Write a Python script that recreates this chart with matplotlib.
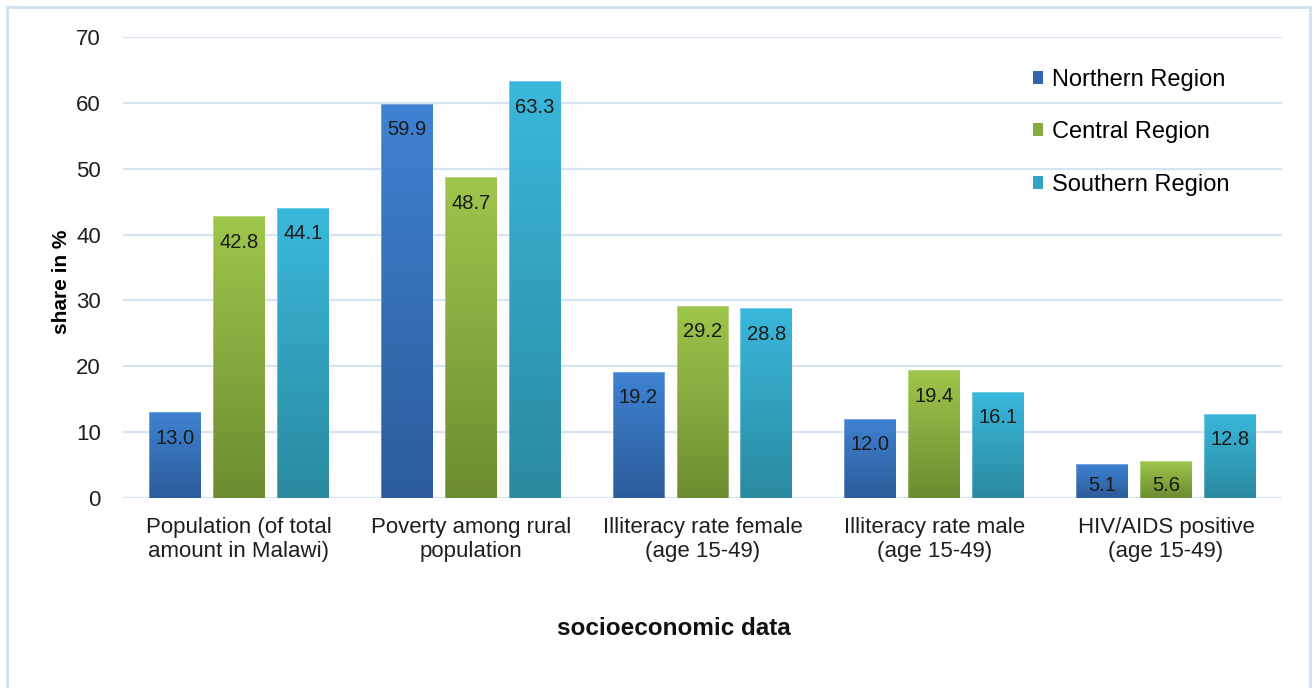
import numpy as np
import matplotlib.pyplot as plt
from matplotlib.patches import Patch, Rectangle
from matplotlib.colors import LinearSegmentedColormap

plt.rcParams["font.family"] = ["Liberation Sans", "DejaVu Sans"]

categories = [
    "Population (of total\namount in Malawi)",
    "Poverty among rural\npopulation",
    "Illiteracy rate female\n(age 15-49)",
    "Illiteracy rate male\n(age 15-49)",
    "HIV/AIDS positive\n(age 15-49)",
]
regions = ["Northern Region", "Central Region", "Southern Region"]
northern = [13.0, 59.9, 19.2, 12.0, 5.1]
central = [42.8, 48.7, 29.2, 19.4, 5.6]
southern = [44.1, 63.3, 28.8, 16.1, 12.8]

# (top colour, bottom colour) of each series' vertical gradient
gradients = [
    ("#3f82d2", "#2c5c9a"),
    ("#9fc64c", "#6c8c30"),
    ("#3ab8dc", "#2a8a9f"),
]
legend_colors = ["#3465ad", "#86ad3c", "#33a3c4"]

fig = plt.figure(figsize=(13.14, 6.88), dpi=100)
ax = fig.add_axes([0.0936, 0.2762, 0.882, 0.670])

x = np.arange(len(categories))
width = 0.224
step = 0.276
grad = np.linspace(0, 1, 256).reshape(-1, 1)

for i, (vals, (top, bottom)) in enumerate(zip([northern, central, southern], gradients)):
    cmap = LinearSegmentedColormap.from_list(f"g{i}", [bottom, top])
    bars = ax.bar(x + (i - 1) * step, vals, width, color=top, zorder=2)
    for bar, v in zip(bars, vals):
        x0, w, h = bar.get_x(), bar.get_width(), bar.get_height()
        im = ax.imshow(grad, cmap=cmap, origin="lower", aspect="auto",
                       extent=[x0, x0 + w, 0, h], zorder=3)
        im.set_clip_path(bar)
        ax.add_patch(Rectangle((x0, 0), w, h, fill=False,
                               edgecolor="#ffffff", lw=0.6, alpha=0.35, zorder=4))
        # label sits just inside the top, but never lower than near the base
        ax.text(x0 + w / 2, max(h - 3.95, 1.97), f"{v:.1f}", ha="center",
                va="center", fontsize=14.5, color="#1a1a1a", zorder=5)

ax.set_xlim(-0.5, len(categories) - 0.5)
ax.set_ylim(0, 70)
ax.set_yticks(range(0, 71, 10))
ax.set_xticks(x)
ax.set_xticklabels(categories, fontsize=16, color="#1e1e1e", linespacing=1.19)
ax.tick_params(axis="y", length=0, pad=16, labelsize=16, labelcolor="#1e1e1e")
ax.tick_params(axis="x", length=0, pad=13.5)
ax.grid(axis="y", color="#d5e3f3", lw=1.6, zorder=0)
ax.set_axisbelow(True)
for s in ax.spines.values():
    s.set_visible(False)

ax.set_ylabel("share in %", fontsize=15, fontweight="bold")
ax.yaxis.set_label_coords(-0.045, 0.47)
fig.text(0.513, 0.087, "socioeconomic data", ha="center", va="center",
         fontsize=17.5, fontweight="bold", color="#111111")

handles = [Patch(facecolor=c, edgecolor="none") for c in legend_colors]
fig.legend(handles, regions, loc="upper left", bbox_to_anchor=(0.7697, 0.931),
           frameon=False, fontsize=17, handlelength=0.45, handleheight=0.45,
           handletextpad=0.35, labelspacing=1.29)

# light frame around the whole chart area
fig.patches.append(Rectangle((0.005, -0.05), 0.992, 1.04, transform=fig.transFigure,
                             fill=False, edgecolor="#d3e2f3", lw=2.2))

fig.savefig("out.png", dpi=100)
